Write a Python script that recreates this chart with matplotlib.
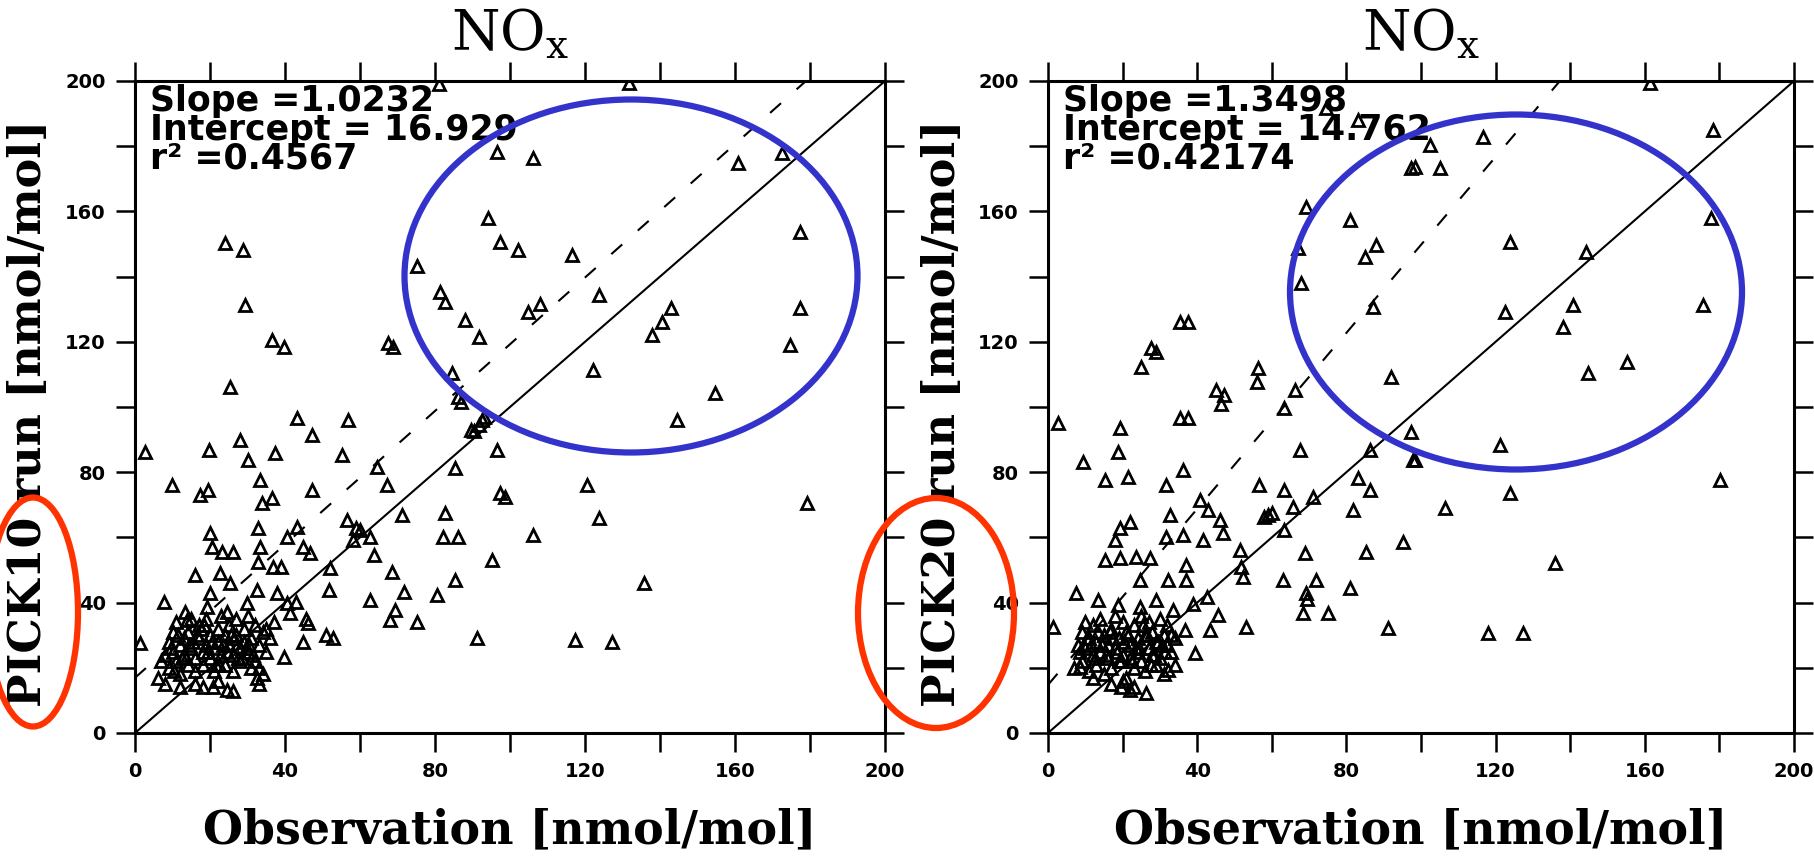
# scatter of NOx: model runs vs observation
import matplotlib
matplotlib.use("Agg")
import matplotlib.pyplot as plt
from matplotlib.patches import Ellipse
from matplotlib.ticker import MultipleLocator
import numpy as np

plt.rcParams['mathtext.fontset'] = 'dejavuserif'

# PICK10 run vs observation
obs_10 = [81, 131.6, 96.4, 106.2, 160.9, 172.5, 94.2, 97.3, 75.1, 81.3, 82.7, 88, 91.6,
          24, 28.9, 29.3, 36.4, 39.6, 68.9, 67.5, 25.3, 84.4, 86.2, 87, 177.3, 177.3,
          174.7, 154.7, 122.2, 143, 140.4, 137.8, 123.6, 116.4, 102.2, 104.9, 108,
          144.4, 120.4, 123.6, 106.2, 135.6, 117.3, 127.1, 179.1, 98.7,
          43.1, 56.9, 47.1, 28, 2.7, 19.6, 30.2, 37.3, 55.1, 64.4, 67.1, 85.3, 96.4,
          91.6, 90.5, 92.5, 89.5, 93, 97.3, 9.8, 17.3, 19.5, 33.3, 33.8, 36.4, 47.1,
          71.1, 82.7, 82.2, 86.2, 63.6, 95.1, 68.4, 85.3, 71.6, 80.4, 62.7, 69.3, 68,
          75.1, 91.1, 52.9, 51.6, 52, 46.2, 44.9, 39.6, 32.4, 24.4, 20.9, 26, 7.6,
          20, 20.4, 23.1, 26, 16, 32.9, 33.3, 32.9, 36.9, 39, 40.4, 44.9, 46.7, 43.1,
          56.4, 60, 62.7, 58.2, 59, 22.7, 25.3, 20, 19.1, 13.3, 13.8, 24.4, 29.8,
          32.4, 37.8, 40.4, 43, 41.3, 1.3, 51, 45.5,
          6, 8, 9, 9, 10, 10, 11, 11, 12, 12, 13, 13, 14, 14, 15, 15, 16, 16, 17, 17,
          18, 18, 19, 19, 20, 20, 21, 21, 22, 22, 23, 23, 24, 24, 25, 25, 26, 26, 27,
          27, 28, 28, 29, 29, 30, 30, 31, 31, 32, 32, 33, 34, 34, 35, 36, 16, 18, 22,
          33, 33, 12, 8,
          7, 9.5, 11.5, 13.5, 15.5, 17.5, 19.5, 21.5, 23.5, 25.5, 27.5, 29.5, 31.5,
          10.5, 12.5, 14.5, 16.5, 18.5, 20.5, 22.5, 24.5, 26.5, 28.5, 30.5, 35, 37]
run_10 = [199, 199.3, 178.3, 176.3, 174.8, 177.8, 157.9, 150.7, 143.2, 135.4, 132.3, 126.7, 121.6,
          150.2, 148.2, 131.3, 120.6, 118.5, 118.5, 119.5, 106.2, 110.3, 103.2, 101.5, 153.8, 130.3,
          119.1, 104.2, 111.3, 130.3, 126.2, 122.1, 134.5, 146.6, 148.3, 129.2, 131.5,
          96, 76.1, 65.8, 60.7, 45.9, 28.5, 28, 70.4, 72.5,
          96.5, 96, 91.4, 89.9, 86.3, 86.8, 83.7, 85.8, 85.3, 81.7, 76.1, 81.2, 86.8,
          94.5, 92.5, 96, 93, 97, 73.5, 76.1, 73, 74.5, 77.6, 70.5, 72, 74.5,
          66.9, 67.4, 60.2, 60.2, 54.6, 53.1, 49.5, 46.9, 43.4, 42.3, 40.8, 37.7, 34.7,
          34.2, 29, 29, 43.9, 50.5, 33.6, 28, 23.4, 16.8, 13.2, 14.2, 13, 40.3,
          61.2, 57.2, 55.6, 55.5, 48.5, 62.8, 57.2, 52.6, 51, 51, 60.2, 57.2, 55.1, 63.3,
          65.3, 62.3, 60.2, 59.2, 63, 49, 45.9, 42.8, 38.8, 37.2, 34.6, 37.2, 39.8,
          43.9, 42.8, 39.8, 40.3, 36.7, 27.5, 30, 35,
          17, 24, 28, 20, 31, 25, 22, 34, 27, 18, 29, 24, 21, 31, 26, 35, 23, 19, 29, 33,
          25, 21, 27, 35, 23, 30, 19, 26, 32, 28, 24, 36, 21, 30, 27, 33, 24, 19, 30,
          35, 26, 22, 32, 28, 25, 36, 29, 20, 33, 22, 27, 31, 18, 25, 29, 15, 14, 16,
          15, 20, 14, 15,
          22, 26, 30, 23, 28, 32, 25, 21, 27, 30, 23, 26, 24,
          19, 23, 27, 30, 33, 28, 21, 25, 29, 23, 27, 32, 34]

# PICK20 run vs observation
obs_20 = [161.3, 74.6, 83.1, 116.6, 102.3, 98.3, 105, 97.4, 178.3, 177.8, 69.3, 80.9, 67,
          88, 84.9, 67.9, 87.1, 123.8, 144.3, 175.6, 140.7, 122.4, 138.1, 144.8, 155.1,
          92, 37.5, 35.5, 29, 27.5, 25, 56.3, 55.9, 45.1, 47.3, 46.4, 66.1, 63.4,
          121.1, 106.4, 123.8, 135.8, 117.9, 127.4, 180.1, 98.3,
          2.7, 19.2, 35.3, 37.5, 18.8, 9.4, 15.2, 21.4, 31.7, 36.2, 67.5, 56.7, 63.4,
          65.7, 71, 83.1, 86.2, 81.8, 86.2, 97.4, 97.9, 95.2, 85.3, 68.8, 59, 60, 58,
          63.4, 40.7, 42.9, 46, 46.9, 32.6, 31.7, 36.2, 41.6, 21.9, 19.2, 17.9, 15.2,
          19.2, 23.7, 27.3, 37.1, 51.4, 51.8, 52.3, 63, 71.9, 69.3, 69.5, 80.9, 68.4,
          75.1, 91.2, 53.2, 45.6, 43.3, 36.6, 39.3, 32.2, 21.9, 26.4, 19.5, 7.6, 24.6,
          32.2, 37, 13.4, 18.8, 24.6, 29, 33.5, 39, 42.5, 1.3, 8.5,
          7, 8, 9, 9, 10, 10, 11, 11, 12, 12, 13, 13, 14, 14, 15, 15, 16, 16, 17, 17,
          18, 18, 19, 19, 20, 20, 21, 21, 22, 22, 23, 23, 24, 24, 25, 25, 26, 26, 27,
          27, 28, 28, 29, 29, 30, 30, 31, 31, 32, 32, 33, 34, 34, 17, 20, 23, 12,
          8.5, 10.5, 12.5, 14.5, 16.5, 18.5, 20.5, 22.5, 24.5, 26.5, 28.5, 30.5,
          11.5, 13.5, 15.5, 17.5, 19.5, 21.5, 23.5, 25.5, 27.5, 29.5, 31.5, 33]
run_20 = [199.3, 191.6, 188, 182.9, 180.4, 173.7, 173.2, 173.2, 185, 157.9, 161.5, 157.4, 148.7,
          149.7, 146.1, 137.9, 130.8, 150.7, 147.6, 131.3, 131.3, 129.2, 124.6, 110.3, 113.9,
          109.3, 126.2, 126.2, 117, 118, 112.4, 111.9, 107.8, 105.2, 103.7, 101, 105.2, 99.6,
          88.3, 68.9, 73.5, 52, 30.6, 30.6, 77.6, 83.7,
          95, 93.5, 96.5, 96.5, 86.3, 83.2, 77.6, 78.6, 76.1, 80.7, 86.8, 76.1, 74.5,
          69.4, 72.5, 78.1, 74.5, 68.4, 86.8, 92.4, 83.7, 58.7, 55.6, 55.1, 66.9, 67.5, 66.2,
          62.3, 71.5, 68.4, 65.3, 61.2, 66.9, 60.2, 60.7, 59.2, 64.8, 62.8, 59.2, 53.1,
          53.6, 54.1, 53.6, 51.5, 56.1, 51, 48, 46.9, 46.9, 42.8, 41, 44.4, 36.7,
          36.7, 32.1, 32.6, 36.2, 31.6, 31.6, 24.4, 19.3, 13.2, 12.2, 14, 42.8, 46.9,
          46.9, 46.9, 40.8, 39.3, 38.8, 40.8, 37.7, 39.5, 41.8, 32.6, 20.3,
          20, 27, 31, 22, 34, 26, 19, 29, 24, 33, 28, 21, 25, 35, 30, 18, 27, 23, 32, 20,
          26, 36, 22, 29, 34, 24, 31, 17, 27, 23, 33, 20, 29, 25, 36, 22, 30, 19, 26,
          34, 24, 31, 21, 28, 35, 23, 30, 18, 27, 33, 25, 29, 21, 15, 16, 14, 17,
          25, 29, 23, 27, 31, 25, 28, 22, 26, 30, 24, 27,
          27, 31, 24, 29, 22, 30, 26, 33, 21, 28, 25, 30]

panels = [
    (obs_10, run_10, 1.0232, 16.929, "0.4567", "PICK10 run [nmol/mol]", 135, 750),
    (obs_20, run_20, 1.3498, 14.762, "0.42174", "PICK20 run [nmol/mol]", 1048, 746),
]

W, H = 1814, 857
fig = plt.figure(figsize=(W / 100, H / 100), dpi=100)

for obs, run, slope, intercept, r2, ylab, left_px, width_px in panels:
    ax = fig.add_axes([left_px / W, (H - 733) / H, width_px / W, 652 / H])
    ax.plot(obs, run, linestyle='none', marker='^', ms=9, mfc='none',
            mec='black', mew=2)

    # 1:1 line and regression line
    line_x = np.array([0, 200])
    ax.plot(line_x, line_x, color='black', lw=1.5)
    ax.plot(line_x, slope * line_x + intercept, color='black', lw=1.5,
            linestyle=(0, (7, 10)))

    ax.set_xlim(0, 200)
    ax.set_ylim(0, 200)
    for ticker_axis in (ax.xaxis, ax.yaxis):
        ticker_axis.set_major_locator(MultipleLocator(40))
        ticker_axis.set_minor_locator(MultipleLocator(20))
    ax.tick_params(which='both', direction='out', length=14, width=1.8,
                   top=True, right=True, labelsize=14, pad=7)
    for lab in ax.get_xticklabels() + ax.get_yticklabels():
        lab.set_fontweight('bold')
    for sp in ax.spines.values():
        sp.set_linewidth(2.2)

    ax.text(0.5, 1 + 31 / 652, r'NO$_\mathrm{x}$', transform=ax.transAxes,
            ha='center', va='baseline', fontsize=40, family='DejaVu Serif')
    ax.set_xlabel("Observation [nmol/mol]", fontsize=33, fontweight='bold',
                  family='DejaVu Serif')
    ax.xaxis.set_label_coords(0.5, -(830 - 733) / 652)
    ax.xaxis.label.set_va('center')
    ax.set_ylabel(ylab, fontsize=32, fontweight='bold', family='DejaVu Serif',
                  va='center')
    ax.yaxis.set_label_coords(-0.142, 0.49)

    stats = f"Slope ={slope:.4f}\nIntercept = {intercept:.3f}\nr\u00b2 ={r2}"
    ax.text(0.02, 0.995, stats, transform=ax.transAxes, ha='left', va='top',
            fontsize=25, fontweight='bold', linespacing=0.8)

# highlighted regions
for cx, cy, w, h, col in [(33, 612, 90, 229, '#ff3300'),
                          (936, 613, 156, 230, '#ff3300'),
                          (631, 276, 453, 353, '#3333cc'),
                          (1516, 292, 452, 355, '#3333cc')]:
    fig.add_artist(Ellipse((cx / W, 1 - cy / H), w / W, h / H,
                           transform=fig.transFigure, fill=False,
                           ec=col, lw=4.5))

plt.savefig("out.png", dpi=100)
